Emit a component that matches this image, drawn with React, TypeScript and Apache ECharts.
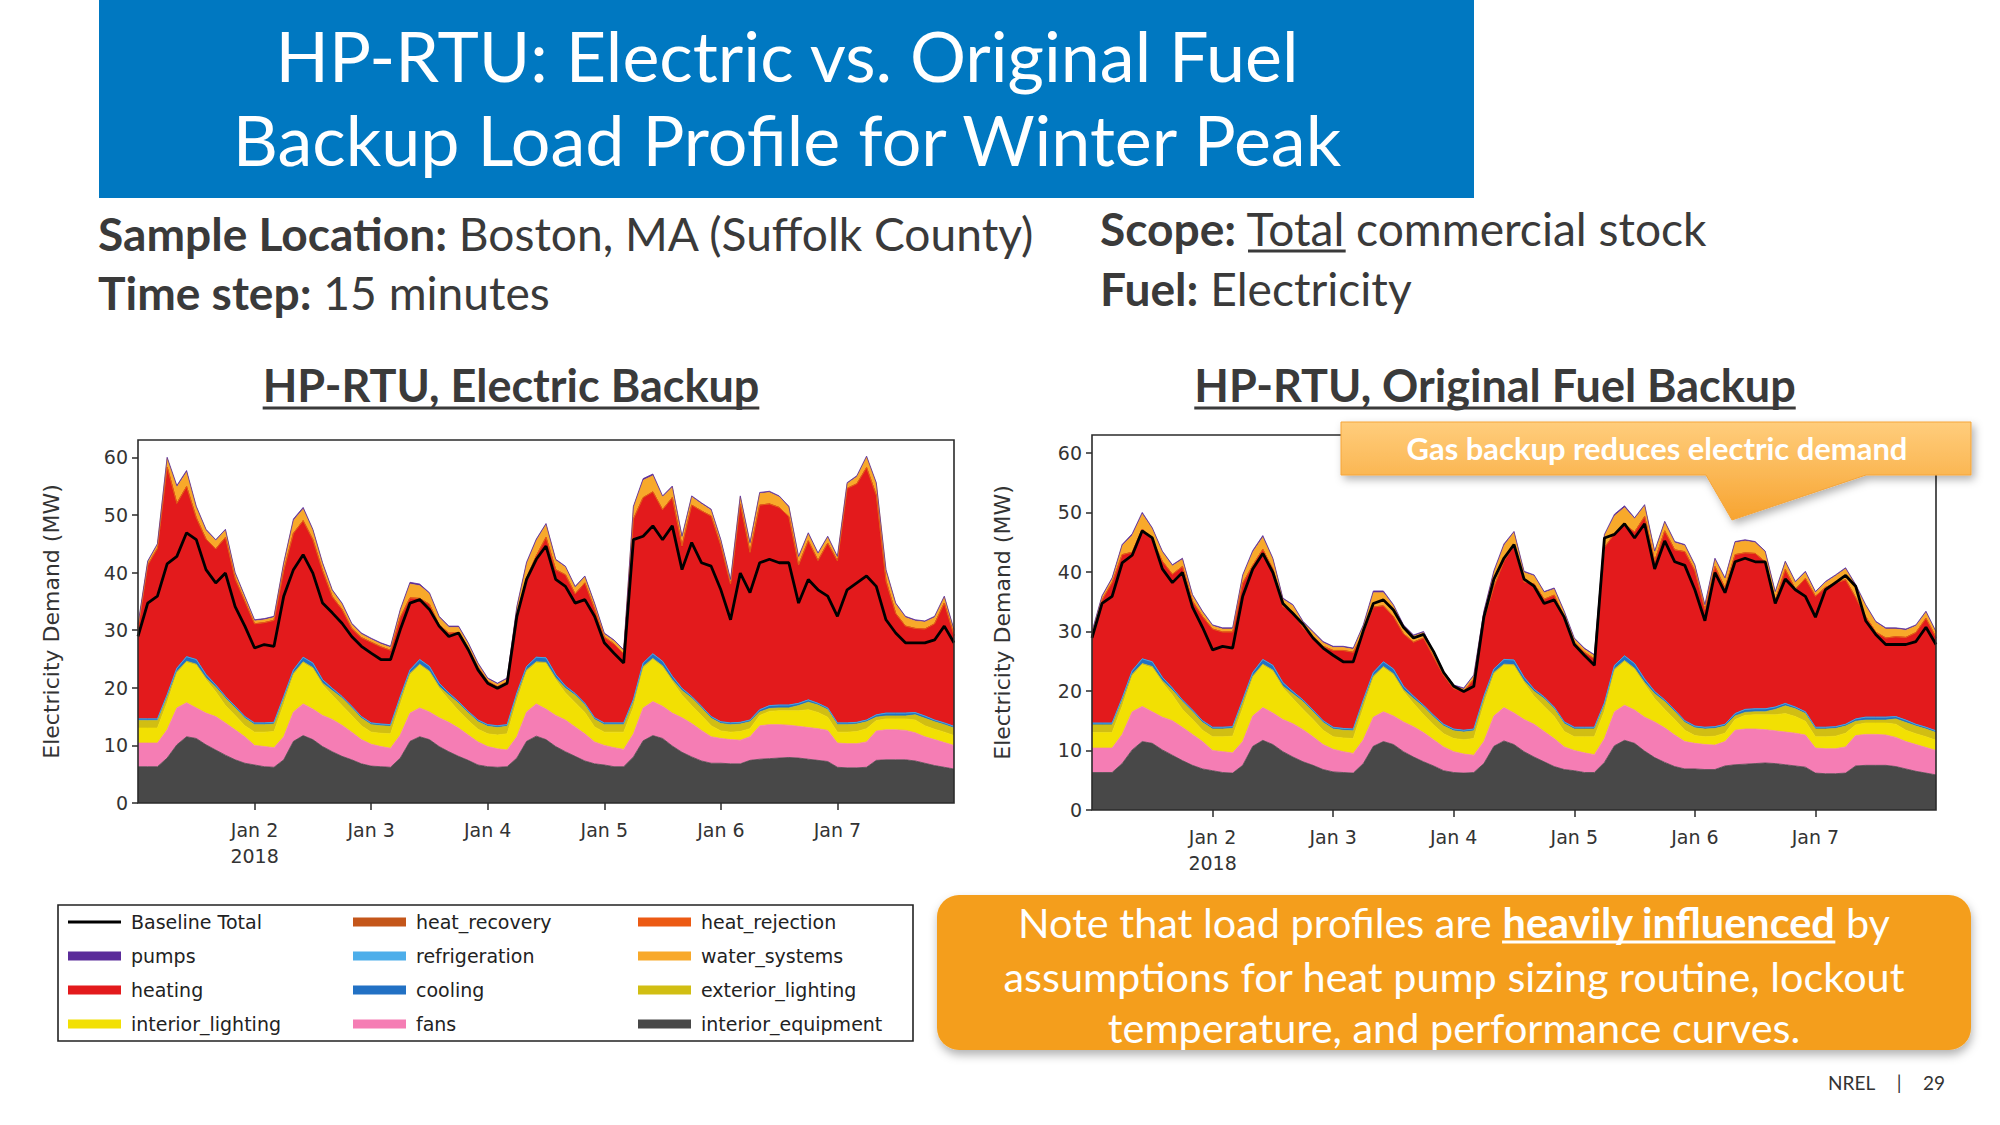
import React, { useEffect, useRef } from 'react';
import * as echarts from 'echarts';

// ---------- data (2-hour steps, Jan 1 00:00 -> Jan 8 00:00) ----------
const hours: string[] = Array.from({ length: 85 }, (_, i) => String(i * 2));
const dayTickIndex = [12, 24, 36, 48, 60, 72];
const dayLabels = ['Jan 2\n2018', 'Jan 3', 'Jan 4', 'Jan 5', 'Jan 6', 'Jan 7'];
const yTicks = [0, 10, 20, 30, 40, 50, 60];

const interiorEquipment = [
  6.3, 6.3, 6.3, 7.8, 10.1, 11.5, 11.2, 10.1, 9.2, 8.3, 7.5, 6.9,
  6.6, 6.3, 6.2, 7.5, 10.7, 11.7, 11.0, 9.8, 8.9, 8.1, 7.5, 6.8,
  6.4, 6.3, 6.2, 7.8, 10.7, 11.5, 11.0, 9.8, 8.9, 8.1, 7.4, 6.6,
  6.3, 6.2, 6.3, 7.8, 10.7, 11.6, 11.0, 9.8, 8.9, 8.1, 7.3, 6.8,
  6.6, 6.3, 6.3, 8.0, 10.8, 11.7, 11.2, 9.9, 8.8, 8.0, 7.3, 6.9,
  6.9, 6.8, 6.8, 7.4, 7.6, 7.7, 7.8, 7.9, 7.8, 7.6, 7.4, 7.2,
  6.2, 6.1, 6.1, 6.2, 7.4, 7.5, 7.5, 7.5, 7.3, 6.9, 6.5, 6.2,
  5.9,
];
const fans = [
  4.1, 4.1, 4.1, 4.9, 6.4, 5.9, 5.3, 5.5, 5.8, 5.6, 5.2, 4.6,
  3.4, 3.5, 3.4, 4.0, 5.1, 5.5, 5.3, 5.4, 5.6, 5.4, 4.8, 4.2,
  3.8, 3.5, 3.3, 4.0, 4.9, 5.0, 4.8, 5.0, 5.1, 4.9, 4.4, 4.0,
  3.5, 3.2, 2.9, 3.7, 5.1, 5.6, 5.3, 5.4, 5.5, 5.1, 4.7, 3.8,
  3.4, 3.3, 3.0, 4.0, 5.7, 5.9, 5.6, 5.7, 6.0, 5.8, 5.3, 4.6,
  4.3, 4.2, 4.1, 4.1, 5.8, 5.9, 5.8, 5.6, 5.5, 5.5, 5.5, 5.4,
  4.2, 4.2, 4.2, 4.4, 5.1, 5.2, 5.2, 5.1, 4.9, 4.6, 4.5, 4.3,
  4.1,
];
const interiorLighting = [
  2.6, 2.6, 2.6, 4.7, 6.0, 7.0, 7.4, 5.8, 4.3, 3.0, 2.5, 1.9,
  2.3, 2.5, 2.8, 5.6, 6.4, 7.1, 7.0, 5.3, 4.2, 3.4, 2.9, 2.4,
  2.1, 2.3, 2.5, 5.3, 6.6, 7.4, 6.9, 5.1, 3.9, 3.0, 2.5, 2.2,
  2.2, 2.4, 2.8, 6.2, 7.0, 7.1, 7.9, 6.2, 4.7, 4.2, 3.7, 2.6,
  2.3, 2.7, 3.0, 4.6, 6.9, 7.3, 6.8, 5.5, 3.9, 3.1, 2.6, 1.9,
  1.3, 1.3, 1.5, 1.4, 1.8, 2.3, 2.4, 2.5, 2.7, 3.1, 2.8, 2.3,
  1.9, 2.0, 2.1, 2.3, 1.8, 1.9, 1.9, 2.0, 2.2, 1.9, 1.8, 1.8,
  1.7,
];
const exteriorLighting = [
  1.3, 1.3, 1.3, 1.0, 0.3, 0.2, 0.2, 0.3, 0.8, 1.3, 1.3, 1.3,
  1.3, 1.3, 1.3, 1.0, 0.3, 0.2, 0.2, 0.3, 0.8, 1.3, 1.3, 1.3,
  1.3, 1.3, 1.3, 1.0, 0.3, 0.2, 0.2, 0.3, 0.8, 1.3, 1.3, 1.3,
  1.3, 1.3, 1.3, 1.0, 0.3, 0.2, 0.2, 0.3, 0.8, 1.3, 1.3, 1.3,
  1.3, 1.3, 1.3, 1.0, 0.3, 0.2, 0.2, 0.3, 0.8, 1.3, 1.3, 1.3,
  1.3, 1.3, 1.3, 1.2, 0.6, 0.5, 0.5, 0.5, 0.9, 1.3, 1.3, 1.3,
  1.3, 1.3, 1.3, 1.2, 0.6, 0.5, 0.5, 0.5, 0.9, 1.3, 1.3, 1.3,
  1.3,
];
const cooling = [
  0.3, 0.3, 0.3, 0.4, 0.6, 0.8, 0.8, 0.6, 0.4, 0.3, 0.3, 0.3,
  0.3, 0.3, 0.3, 0.4, 0.6, 0.8, 0.8, 0.6, 0.4, 0.3, 0.3, 0.3,
  0.3, 0.3, 0.3, 0.4, 0.6, 0.8, 0.8, 0.6, 0.4, 0.3, 0.3, 0.3,
  0.3, 0.3, 0.3, 0.4, 0.6, 0.8, 0.8, 0.6, 0.4, 0.3, 0.3, 0.3,
  0.3, 0.3, 0.3, 0.4, 0.6, 0.8, 0.8, 0.6, 0.4, 0.3, 0.3, 0.3,
  0.3, 0.3, 0.3, 0.3, 0.4, 0.5, 0.5, 0.5, 0.4, 0.4, 0.3, 0.3,
  0.3, 0.3, 0.3, 0.3, 0.4, 0.5, 0.5, 0.5, 0.4, 0.4, 0.3, 0.3,
  0.3,
];
const heatingElectric = [
  15.7, 26.7, 29.6, 39.5, 28.6, 29.5, 24.6, 23.5, 23.6, 27.6, 22.1, 20.0,
  17.2, 17.4, 17.7, 21.8, 23.7, 23.7, 21.4, 18.9, 15.9, 15.1, 13.5, 13.7,
  14.0, 13.4, 12.9, 13.7, 12.5, 10.6, 10.8, 10.1, 10.4, 12.0, 11.0, 9.2,
  7.5, 6.8, 7.4, 13.5, 15.4, 17.6, 20.9, 18.2, 19.3, 17.3, 20.9, 18.9,
  14.9, 13.7, 12.0, 31.3, 28.7, 28.1, 26.3, 31.0, 24.7, 33.2, 33.9, 34.8,
  30.6, 24.1, 37.9, 29.1, 35.5, 35.0, 34.3, 32.7, 24.0, 27.6, 24.8, 28.6,
  28.1, 40.7, 41.4, 43.8, 38.1, 22.9, 17.3, 15.1, 14.6, 15.1, 16.7, 20.8,
  15.8,
];
const heatingFuel = [
  14.7, 20.7, 23.6, 24.1, 19.9, 21.8, 20.5, 19.5, 19.1, 22.4, 18.3, 17.5,
  16.5, 16.0, 15.9, 19.6, 18.0, 18.5, 16.2, 12.8, 13.4, 12.1, 12.3, 12.5,
  12.9, 13.1, 12.9, 11.2, 11.0, 9.4, 8.8, 8.8, 9.1, 11.3, 9.8, 8.2,
  6.8, 6.5, 8.4, 12.8, 13.8, 16.5, 19.2, 16.0, 17.7, 16.4, 18.8, 17.6,
  14.3, 12.6, 11.5, 26.1, 22.1, 22.1, 22.1, 27.3, 21.9, 28.4, 26.9, 28.4,
  26.1, 19.8, 26.9, 22.9, 26.7, 26.3, 26.1, 24.7, 17.9, 22.5, 19.8, 22.4,
  22.0, 23.5, 24.1, 24.3, 20.4, 16.9, 14.3, 13.3, 13.4, 13.9, 15.4, 18.3,
  15.7,
];
const waterSystems = [
  0.5, 0.5, 0.6, 1.5, 2.8, 2.5, 1.8, 1.5, 1.4, 1.2, 0.9, 0.7,
  0.5, 0.5, 0.5, 1.2, 2.2, 2.0, 1.6, 1.2, 1.0, 0.9, 0.7, 0.6,
  0.5, 0.5, 0.5, 1.2, 2.4, 2.2, 1.8, 1.3, 1.0, 0.9, 0.7, 0.5,
  0.4, 0.4, 0.5, 1.3, 2.4, 2.6, 2.2, 1.6, 1.3, 1.1, 1.0, 0.8,
  0.5, 0.5, 0.5, 2.0, 3.0, 2.8, 2.2, 1.8, 1.5, 1.4, 1.2, 1.0,
  0.8, 0.6, 1.2, 1.5, 2.0, 2.0, 1.8, 1.6, 1.3, 1.2, 1.1, 1.0,
  0.6, 0.8, 1.2, 1.8, 2.0, 1.8, 1.6, 1.5, 1.3, 1.2, 1.1, 1.0,
  0.8,
];
const pumps = [
  0.2, 0.2, 0.2, 0.2, 0.3, 0.3, 0.2, 0.2, 0.2, 0.2, 0.2, 0.2,
  0.2, 0.2, 0.2, 0.2, 0.3, 0.3, 0.2, 0.2, 0.2, 0.2, 0.2, 0.2,
  0.2, 0.2, 0.2, 0.2, 0.3, 0.3, 0.2, 0.2, 0.2, 0.2, 0.2, 0.2,
  0.2, 0.2, 0.2, 0.2, 0.3, 0.3, 0.2, 0.2, 0.2, 0.2, 0.2, 0.2,
  0.2, 0.2, 0.2, 0.2, 0.3, 0.3, 0.2, 0.2, 0.2, 0.2, 0.2, 0.2,
  0.2, 0.2, 0.2, 0.2, 0.2, 0.2, 0.2, 0.2, 0.2, 0.2, 0.2, 0.2,
  0.2, 0.2, 0.2, 0.2, 0.2, 0.2, 0.2, 0.2, 0.2, 0.2, 0.2, 0.2,
  0.2,
];
const baselineTotal = [
  28.9, 34.7, 35.9, 41.5, 42.8, 46.9, 45.7, 40.5, 38.2, 39.9, 34.1, 30.7,
  26.9, 27.5, 27.2, 35.9, 40.5, 43.1, 39.9, 34.7, 33.0, 31.2, 28.9, 27.2,
  26.0, 24.9, 24.9, 30.1, 34.7, 35.3, 33.6, 30.7, 28.9, 29.5, 26.6, 23.1,
  20.8, 19.9, 20.8, 32.4, 38.8, 42.3, 44.6, 38.8, 37.6, 34.7, 35.3, 32.4,
  27.8, 26.0, 24.3, 45.7, 46.3, 48.1, 45.7, 48.1, 40.5, 45.2, 41.7, 41.1,
  37.0, 31.8, 39.9, 36.5, 41.7, 42.3, 41.7, 41.7, 34.7, 38.8, 37.0, 35.9,
  32.4, 37.0, 38.2, 39.4, 37.6, 31.8, 29.5, 27.8, 27.8, 27.8, 28.3, 30.7,
  27.8,
];

const COLORS: Record<string, string> = {
  'Baseline Total': '#000000',
  heat_recovery: '#C4561A',
  heat_rejection: '#EC5A14',
  pumps: '#5B2C9A',
  refrigeration: '#4DAEEA',
  water_systems: '#F8A92A',
  heating: '#E31A1C',
  cooling: '#2271C4',
  exterior_lighting: '#D1BE13',
  interior_lighting: '#F2E003',
  fans: '#F57DB4',
  interior_equipment: '#484848',
};

const SLIDE_FONT = 'Lato';
const PLOT_FONT = 'DejaVu Sans';
const TEXT_DARK = '#3a3a3a';

let measureCtx: CanvasRenderingContext2D | null = null;
function mw(text: string, size: number, bold: boolean, family = SLIDE_FONT) {
  if (!measureCtx) measureCtx = document.createElement('canvas').getContext('2d');
  measureCtx!.font = `${bold ? 'bold ' : ''}${size}px ${family}`;
  return measureCtx!.measureText(text).width;
}
function measureParts(parts: Array<[string, boolean]>, size: number) {
  return parts.reduce((s, [t, b]) => s + mw(t, size, b), 0);
}
function fit(parts: Array<[string, boolean]>, target: number) {
  return (100 * target) / measureParts(parts, 100);
}

function buildSeries(gi: number, heating: number[]) {
  const stack = 'stack' + gi;
  const area = (name: string, data: number[] | null) => ({
    name,
    type: 'line',
    stack,
    xAxisIndex: gi,
    yAxisIndex: gi,
    symbol: 'none',
    showSymbol: false,
    silent: true,
    lineStyle: { width: 0.8, color: COLORS[name] },
    itemStyle: { color: COLORS[name] },
    areaStyle: { color: COLORS[name], opacity: 1 },
    data: data ? data.slice() : hours.map(() => 0),
  });
  return [
    area('interior_equipment', interiorEquipment),
    area('fans', fans),
    area('interior_lighting', interiorLighting),
    area('exterior_lighting', exteriorLighting),
    area('cooling', cooling),
    area('refrigeration', null),
    area('heating', heating),
    area('heat_recovery', null),
    area('heat_rejection', null),
    area('water_systems', waterSystems),
    area('pumps', pumps),
    {
      name: 'Baseline Total',
      type: 'line',
      xAxisIndex: gi,
      yAxisIndex: gi,
      symbol: 'none',
      showSymbol: false,
      silent: true,
      z: 5,
      lineStyle: { width: 2.8, color: '#000' },
      itemStyle: { color: '#000' },
      data: baselineTotal.slice(),
    },
  ];
}

function axesFor(gi: number, nameGap: number) {
  const tickStyle = { color: '#2b2b2b', width: 1.5 };
  const labelStyle = { fontFamily: PLOT_FONT, fontSize: 19, color: '#333' };
  const isDay = (i: number) => dayTickIndex.indexOf(i) >= 0;
  return {
    x: {
      type: 'category',
      gridIndex: gi,
      data: hours,
      boundaryGap: false,
      axisLine: { show: false },
      splitLine: { show: false },
      axisTick: { show: true, interval: (i: number) => isDay(i), length: 7, lineStyle: tickStyle },
      axisLabel: {
        ...labelStyle,
        interval: (i: number) => isDay(i),
        lineHeight: 26,
        margin: 14,
        formatter: (_v: string, i: number) => {
          const k = dayTickIndex.indexOf(i);
          return k >= 0 ? dayLabels[k] : '';
        },
      },
    },
    y: {
      type: 'value',
      gridIndex: gi,
      min: 0,
      max: 63,
      axisLine: { show: false },
      splitLine: { show: false },
      axisTick: { show: true, customValues: yTicks, length: 6, lineStyle: tickStyle },
      axisLabel: { ...labelStyle, customValues: yTicks, margin: 10 },
      name: 'Electricity Demand (MW)',
      nameLocation: 'middle',
      nameGap,
      nameRotate: 90,
      nameTextStyle: { fontFamily: PLOT_FONT, fontSize: 22, color: '#333' },
    },
  };
}

function buildGraphics() {
  const g: any[] = [];
  // Title banner
  g.push({ type: 'rect', shape: { x: 99, y: 0, width: 1375, height: 198 }, style: { fill: '#0078C1' } });
  const t1 = 'HP-RTU: Electric vs. Original Fuel';
  const t2 = 'Backup Load Profile for Winter Peak';
  const ts = Math.min(70, (fit([[t1, false]], 1100) + fit([[t2, false]], 1210)) / 2);
  [[t1, 55], [t2, 139]].forEach(([t, y]) => {
    g.push({
      type: 'text', x: 787, y,
      style: { text: t, fill: '#ffffff', fontSize: ts, fontFamily: SLIDE_FONT, align: 'center', verticalAlign: 'middle' },
    });
  });

  // Info lines
  const infoLines: Array<{ b: string; r: string; x: number; y: number; w: number }> = [
    { b: 'Sample Location:', r: ' Boston, MA (Suffolk County)', x: 98, y: 233, w: 935 },
    { b: 'Time step:', r: ' 15 minutes', x: 98, y: 292, w: 452 },
    { b: 'Scope:', r: ' Total commercial stock', x: 1100, y: 228, w: 609 },
    { b: 'Fuel:', r: ' Electricity', x: 1100, y: 288, w: 312 },
  ];
  const infoSize =
    infoLines.reduce((s, l) => s + fit([[l.b, true], [l.r, false]], l.w), 0) / infoLines.length;
  infoLines.forEach((l) => {
    g.push({
      type: 'text', x: l.x, y: l.y,
      style: {
        text: `{b|${l.b}}{r|${l.r}}`,
        align: 'left', verticalAlign: 'middle',
        rich: {
          b: { fontSize: infoSize, fontFamily: SLIDE_FONT, fontWeight: 'bold', fill: TEXT_DARK, color: TEXT_DARK },
          r: { fontSize: infoSize, fontFamily: SLIDE_FONT, fill: TEXT_DARK, color: TEXT_DARK },
        },
      },
    });
  });
  const totX = 1100 + mw('Scope:', infoSize, true) + mw(' ', infoSize, false);
  const totW = mw('Total', infoSize, false);
  g.push({ type: 'line', shape: { x1: totX, y1: 251, x2: totX + totW, y2: 251 }, style: { stroke: TEXT_DARK, lineWidth: 3 } });

  // Sub-titles
  const subs: Array<[string, number, number]> = [
    ['HP-RTU, Electric Backup', 511, 494],
    ['HP-RTU, Original Fuel Backup', 1495, 605],
  ];
  const subSize = subs.reduce((s, [t, , w]) => s + fit([[t, true]], w), 0) / subs.length;
  subs.forEach(([t, cx]) => {
    const w = mw(t, subSize, true);
    g.push({
      type: 'text', x: cx, y: 385,
      style: { text: t, fill: TEXT_DARK, fontSize: subSize, fontWeight: 'bold', fontFamily: SLIDE_FONT, align: 'center', verticalAlign: 'middle' },
    });
    g.push({ type: 'line', shape: { x1: cx - w / 2, y1: 408, x2: cx + w / 2, y2: 408 }, style: { stroke: TEXT_DARK, lineWidth: 3 } });
  });

  // Plot frames
  g.push({ type: 'rect', z: 50, shape: { x: 138, y: 440, width: 816, height: 363 }, style: { fill: 'none', stroke: '#2b2b2b', lineWidth: 1.6 } });
  g.push({ type: 'rect', z: 50, shape: { x: 1092, y: 435, width: 844, height: 375 }, style: { fill: 'none', stroke: '#2b2b2b', lineWidth: 1.6 } });

  // Legend box
  g.push({ type: 'rect', shape: { x: 58, y: 905, width: 855, height: 136 }, style: { fill: '#ffffff', stroke: '#222', lineWidth: 1.6 }, z: -1 });

  // Callout
  const cText = 'Gas backup reduces electric demand';
  const cSize = fit([[cText, true]], 501);
  g.push({
    type: 'polygon', z: 100,
    shape: { points: [[1341, 422], [1971, 422], [1971, 475], [1866, 475], [1732, 520], [1706, 475], [1341, 475]] },
    style: {
      fill: new echarts.graphic.LinearGradient(0, 0, 0, 1, [
        { offset: 0, color: '#FFCD7C' },
        { offset: 1, color: '#F7A431' },
      ]),
      stroke: '#F5A53A', lineWidth: 1,
      shadowBlur: 8, shadowOffsetX: 3, shadowOffsetY: 4, shadowColor: 'rgba(0,0,0,0.3)',
    },
  });
  g.push({
    type: 'text', z: 101, x: 1657, y: 448,
    style: { text: cText, fill: '#ffffff', fontSize: cSize, fontWeight: 'bold', fontFamily: SLIDE_FONT, align: 'center', verticalAlign: 'middle' },
  });

  // Note box
  g.push({
    type: 'rect', z: 10,
    shape: { x: 937, y: 895, width: 1034, height: 155, r: 22 },
    style: { fill: '#F49E1C', shadowBlur: 10, shadowOffsetY: 5, shadowOffsetX: 1, shadowColor: 'rgba(0,0,0,0.3)' },
  });
  const n1a = 'Note that load profiles are ';
  const n1b = 'heavily influenced';
  const n1c = ' by';
  const n2 = 'assumptions for heat pump sizing routine, lockout';
  const n3 = 'temperature, and performance curves.';
  const nSize =
    (fit([[n1a, false], [n1b, true], [n1c, false]], 867) + fit([[n2, false]], 894) + fit([[n3, false]], 703)) / 3;
  const cx = 1454;
  const nr = { fontSize: nSize, fontFamily: SLIDE_FONT, fill: '#ffffff', color: '#ffffff' };
  g.push({
    type: 'text', z: 11, x: cx, y: 922,
    style: {
      text: `{r|${n1a}}{b|${n1b}}{r|${n1c}}`, align: 'center', verticalAlign: 'middle',
      rich: { r: nr, b: { ...nr, fontWeight: 'bold' } },
    },
  });
  const wA = mw(n1a, nSize, false);
  const wB = mw(n1b, nSize, true);
  const wC = mw(n1c, nSize, false);
  const start = cx - (wA + wB + wC) / 2;
  g.push({ type: 'line', z: 11, shape: { x1: start + wA, y1: 942, x2: start + wA + wB, y2: 942 }, style: { stroke: '#ffffff', lineWidth: 3 } });
  g.push({ type: 'text', z: 11, x: cx, y: 976, style: { text: n2, ...nr, align: 'center', verticalAlign: 'middle' } });
  g.push({ type: 'text', z: 11, x: cx, y: 1027, style: { text: n3, ...nr, align: 'center', verticalAlign: 'middle' } });

  // Footer
  const foot = { fontSize: 19, fontFamily: SLIDE_FONT, fill: '#333' };
  g.push({ type: 'text', x: 1828, y: 1082, style: { text: 'NREL', ...foot, align: 'left', verticalAlign: 'middle' } });
  g.push({ type: 'text', x: 1899, y: 1082, style: { text: '|', ...foot, align: 'center', verticalAlign: 'middle' } });
  g.push({ type: 'text', x: 1923, y: 1082, style: { text: '29', ...foot, align: 'left', verticalAlign: 'middle' } });
  return g;
}

export default function App() {
  const ref = useRef<HTMLDivElement>(null);
  useEffect(() => {
    if (!ref.current) return;
    const chart = echarts.init(ref.current, undefined, { renderer: 'svg' });
    const a0 = axesFor(0, 76);
    const a1 = axesFor(1, 79);
    const legendBase = {
      orient: 'vertical',
      selectedMode: false,
      itemWidth: 53,
      itemHeight: 9,
      itemGap: 14,
      padding: 0,
      textStyle: { fontFamily: PLOT_FONT, fontSize: 19, color: '#222', lineHeight: 20, padding: [0, 0, 0, 5] },
    };
    const li = (n: string) => ({ name: n, icon: 'rect' });
    const option: any = {
      animation: false,
      backgroundColor: '#ffffff',
      grid: [
        { left: 138, top: 440, width: 816, height: 363 },
        { left: 1092, top: 435, width: 844, height: 375 },
      ],
      xAxis: [a0.x, a1.x],
      yAxis: [a0.y, a1.y],
      legend: [
        { ...legendBase, left: 68, top: 912, itemHeight: 3, data: [li('Baseline Total')] },
        { ...legendBase, left: 68, top: 946, data: ['pumps', 'heating', 'interior_lighting'].map(li) },
        { ...legendBase, left: 353, top: 912, data: ['heat_recovery', 'refrigeration', 'cooling', 'fans'].map(li) },
        { ...legendBase, left: 638, top: 912, data: ['heat_rejection', 'water_systems', 'exterior_lighting', 'interior_equipment'].map(li) },
      ],
      series: [...buildSeries(0, heatingElectric), ...buildSeries(1, heatingFuel)],
      graphic: { elements: buildGraphics() },
    };
    chart.setOption(option);
    return () => chart.dispose();
  }, []);
  return (
    <div
      ref={ref}
      style={{ position: 'fixed', left: 0, top: 0, width: 2000, height: 1125, background: '#fff' }}
    />
  );
}
